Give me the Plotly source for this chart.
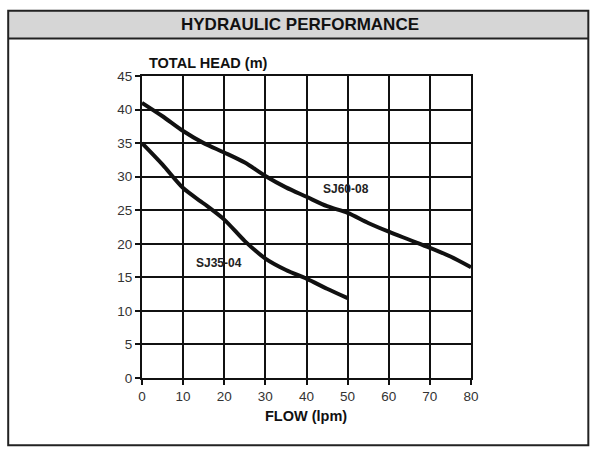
"""Hydraulic performance curves SJ35-04 / SJ60-08 (head vs flow)."""
import plotly.graph_objects as go

W, H = 600, 456
# plot area in pixels (left, right, top, bottom)
PL, PR, PT, PB = 142, 471.5, 75.5, 378.5

FONT = "Liberation Sans, Arial, sans-serif"
INK = "#111111"

# curves
sj60_flow = [0, 5, 10, 15, 20, 25, 30, 35, 40, 45, 50, 55, 60, 65, 70, 75, 80]
sj60_head = [41, 39.0, 36.8, 35.0, 33.6, 32.1, 30.1, 28.4, 27.0, 25.6, 24.6, 23.1, 21.8, 20.6, 19.4, 18.1, 16.5]

sj35_flow = [0, 5, 10, 15, 20, 25, 30, 35, 40, 45, 50]
sj35_head = [35, 31.8, 28.3, 26.0, 23.6, 20.4, 17.8, 16.1, 14.8, 13.3, 11.9]

x_ticks = [0, 10, 20, 30, 40, 50, 60, 70, 80]
y_ticks = [0, 5, 10, 15, 20, 25, 30, 35, 40, 45]


def px(x):
    return (x - PL) / (PR - PL)


def py(y):
    return (PB - y) / (PB - PT)


fig = go.Figure()
for fx, hy in [(sj60_flow, sj60_head), (sj35_flow, sj35_head)]:
    fig.add_trace(go.Scatter(
        x=fx, y=hy, mode="lines",
        line=dict(color=INK, width=4, shape="spline", smoothing=0.8),
        showlegend=False, hoverinfo="skip",
    ))

fig.add_annotation(x=49.5, y=28.2, text="<b>SJ60-08</b>", showarrow=False,
                   font=dict(family=FONT, size=12, color="#222"))
fig.add_annotation(x=18.7, y=17.2, text="<b>SJ35-04</b>", showarrow=False,
                   font=dict(family=FONT, size=12, color="#222"))

# outer frame + title band
fig.add_shape(type="rect", xref="paper", yref="paper",
              x0=px(8), x1=px(589), y0=py(10), y1=py(38),
              fillcolor="#d6d6d6", line=dict(width=0), layer="below")
fig.add_shape(type="rect", xref="paper", yref="paper",
              x0=px(8), x1=px(589), y0=py(10), y1=py(446),
              line=dict(color="#222", width=2))
fig.add_shape(type="line", xref="paper", yref="paper",
              x0=px(8), x1=px(589), y0=py(38), y1=py(38),
              line=dict(color="#222", width=2))

fig.add_annotation(xref="paper", yref="paper", x=px(300), y=py(24),
                   xanchor="center", yanchor="middle",
                   text="<b>HYDRAULIC PERFORMANCE</b>", showarrow=False,
                   font=dict(family=FONT, size=17, color=INK))
fig.add_annotation(xref="paper", yref="paper", x=px(147), y=py(62),
                   xanchor="left", yanchor="middle",
                   text="<b>TOTAL HEAD (m)</b>", showarrow=False,
                   font=dict(family=FONT, size=14.5, color=INK))
fig.add_annotation(xref="paper", yref="paper", x=px(306), y=py(417),
                   xanchor="center", yanchor="middle",
                   text="<b>FLOW (lpm)</b>", showarrow=False,
                   font=dict(family=FONT, size=14.5, color=INK))

axis = dict(showgrid=True, gridcolor=INK, gridwidth=2, zeroline=False,
            showline=True, linecolor=INK, linewidth=2, mirror=True,
            ticks="outside", ticklen=5, tickwidth=2, tickcolor=INK,
            tickfont=dict(family=FONT, size=13.5, color="#333"), fixedrange=True)

fig.update_xaxes(range=[0, 80], tickvals=x_ticks, **axis)
fig.update_yaxes(range=[0, 45], tickvals=y_ticks, **axis)

fig.update_layout(
    width=W, height=H,
    margin=dict(l=PL, r=W - PR, t=PT, b=H - PB),
    paper_bgcolor="white", plot_bgcolor="white",
    font=dict(family=FONT, color=INK),
)

# page body has a default 8px margin; drop it so the figure sits at 0,0
fig.write_html("out.html", config={"displayModeBar": False},
               post_script="document.body.style.margin='0';")
